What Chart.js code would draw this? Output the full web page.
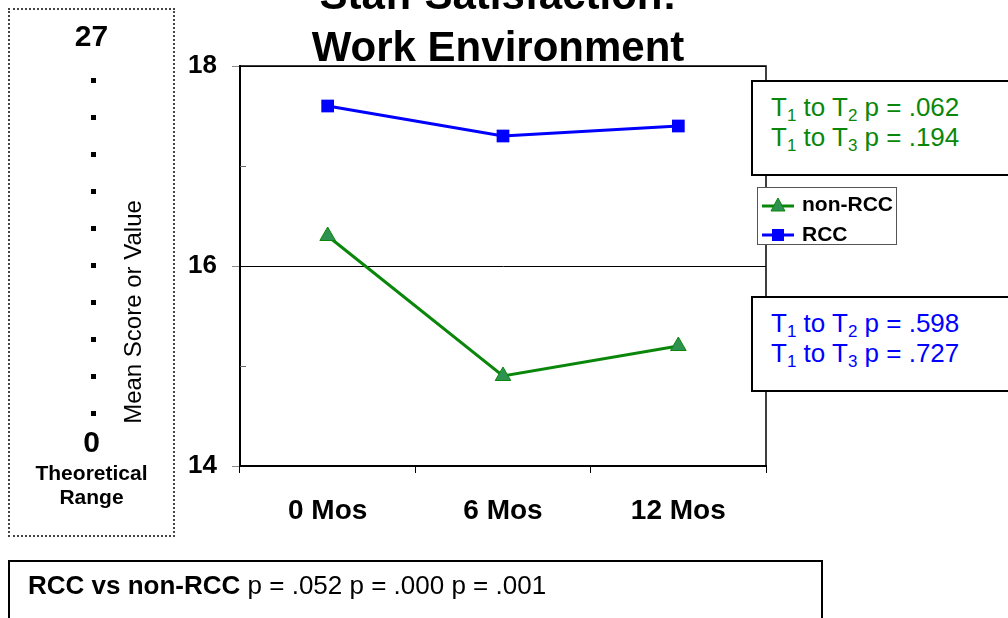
<!DOCTYPE html>
<html>
<head>
<meta charset="utf-8">
<script src="https://cdn.jsdelivr.net/npm/chart.js@4.4.1/dist/chart.umd.min.js"></script>
<style>
  body { margin: 0; background: #fff; font-family: "Liberation Sans", Arial, sans-serif; }
  #wrap { position: relative; width: 1008px; height: 618px; overflow: hidden; }
  #wrap canvas { position: absolute; left: 0; top: 0; }
  .abs { position: absolute; }
  .title { left: 0; width: 996px; top: -31px; text-align: center; font-weight: bold; font-size: 42px; line-height: 52px; }
  .range { left: 8px; top: 8px; width: 163px; height: 525px; border: 2px dotted #444; }
  .rt { position: absolute; left: 0; width: 163px; text-align: center; font-weight: bold; color: #000; }
  .ytitle { left: 3px; top: 298px; width: 260px; text-align: center; font-size: 24px; line-height: 28px; transform: rotate(-90deg); white-space: nowrap; }
  .note { left: 751px; width: 300px; height: 92px; border: 2px solid #000; background: #fff; font-size: 26px; line-height: 30px; padding-left: 18px; }
  .note div { white-space: nowrap; }
  .note sub { font-size: 17px; vertical-align: -5px; line-height: 0; }
  .legend { left: 757px; top: 187px; width: 138px; height: 56px; border: 1px solid #555; background: #fff; font-weight: bold; font-size: 21px; }
  .legend .item { position: absolute; left: 4px; height: 20px; line-height: 20px; white-space: nowrap; }
  .legend svg { vertical-align: middle; margin-right: 8px; }
  .bottom { left: 8px; top: 560px; width: 811px; height: 80px; border: 2px solid #000; font-size: 26px; }
  .bottom span.t { position: absolute; left: 18px; top: 8px; line-height: 30px; white-space: nowrap; }
</style>
</head>
<body>
<div id="wrap">
  <canvas id="chart" width="1008" height="618"></canvas>
  <div class="abs title">Staff Satisfaction:<br>Work Environment</div>
  <div class="abs range" id="range"></div>
  <div class="abs ytitle">Mean Score or Value</div>
  <div class="abs note" style="top:80px; color:#0a870a;">
    <div style="margin-top:10px;">T<sub>1</sub> to T<sub>2</sub> p = .062</div>
    <div>T<sub>1</sub> to T<sub>3</sub> p = .194</div>
  </div>
  <div class="abs legend" id="legend"></div>
  <div class="abs note" style="top:296px; color:#0000ff;">
    <div style="margin-top:10px;">T<sub>1</sub> to T<sub>2</sub> p = .598</div>
    <div>T<sub>1</sub> to T<sub>3</sub> p = .727</div>
  </div>
  <div class="abs bottom"><span class="t"><b>RCC vs non-RCC</b> p = .052 p = .000 p = .001</span></div>
</div>
<script>
const categories = ["0 Mos", "6 Mos", "12 Mos"];
const nonRccValues = [16.3, 14.9, 15.2];
const rccValues = [17.6, 17.3, 17.4];
const yTicks = [14, 16, 18];
const rangeLabels = { top: "27", bottom: "0", caption: ["Theoretical", "Range"] };

const GREEN = "#0a870a";
const GREEN_FILL = "#2e9350";
const BLUE = "#0000ff";
const FONT = "'Liberation Sans', Arial, sans-serif";

// left "theoretical range" box (inner origin is page 10,10)
(function buildRange() {
    let box = document.getElementById("range");
    let html = '';
    html += '<div class="rt" style="top:9px;font-size:30px;line-height:34px;">' + rangeLabels.top + '</div>';
    for (let i = 0; i < 10; i++) {
        let cy = 81 + i * 37;
        html += '<div style="position:absolute;left:81px;top:' + (cy - 3 - 10) + 'px;width:5px;height:5px;background:#000;"></div>';
    }
    html += '<div class="rt" style="top:415px;font-size:30px;line-height:34px;">' + rangeLabels.bottom + '</div>';
    html += '<div class="rt" style="top:451px;font-size:21px;line-height:24px;">' + rangeLabels.caption.join("<br>") + '</div>';
    box.innerHTML = html;
})();

// custom legend
(function buildLegend() {
    let lg = document.getElementById("legend");
    let tri = '<svg width="32" height="16"><line x1="0" y1="9" x2="32" y2="9" stroke="' + GREEN + '" stroke-width="3"/>' +
              '<polygon points="16,1 23,14 9,14" fill="' + GREEN_FILL + '" stroke="' + GREEN + '" stroke-width="1"/></svg>';
    let sq = '<svg width="32" height="16"><line x1="0" y1="8" x2="32" y2="8" stroke="' + BLUE + '" stroke-width="3"/>' +
             '<rect x="10" y="2" width="12" height="12" fill="' + BLUE + '"/></svg>';
    lg.innerHTML = '<div class="item" style="top:6px;">' + tri + 'non-RCC</div>' +
                   '<div class="item" style="top:36px;">' + sq + 'RCC</div>';
})();

// frame on top/right + minor ticks inside
const framePlugin = {
    id: "frame",
    afterDraw(chart) {
        let ctx = chart.ctx;
        let a = chart.chartArea;
        let y = chart.scales.y;
        ctx.save();
        ctx.strokeStyle = "#000";
        ctx.lineWidth = 1.5;
        ctx.beginPath();
        ctx.moveTo(a.left, a.top);
        ctx.lineTo(a.right, a.top);
        ctx.lineTo(a.right, a.bottom);
        ctx.stroke();
        ctx.lineWidth = 1;
        ctx.strokeStyle = "#666";
        [15, 17].forEach(v => {
            let py = Math.round(y.getPixelForValue(v)) + 0.5;
            ctx.beginPath();
            ctx.moveTo(a.left, py);
            ctx.lineTo(a.left + 6, py);
            ctx.stroke();
        });
        ctx.restore();
    }
};

new Chart(document.getElementById("chart").getContext("2d"), {
    type: "line",
    data: {
        labels: categories,
        datasets: [{
            label: "non-RCC",
            data: nonRccValues,
            borderColor: GREEN,
            backgroundColor: GREEN_FILL,
            pointBackgroundColor: GREEN_FILL,
            pointBorderColor: GREEN,
            pointBorderWidth: 1,
            pointStyle: "triangle",
            pointRadius: 9,
            borderWidth: 3,
            tension: 0
        }, {
            label: "RCC",
            data: rccValues,
            borderColor: BLUE,
            backgroundColor: BLUE,
            pointStyle: "rect",
            pointRadius: 9,
            pointBorderWidth: 0,
            borderWidth: 3,
            tension: 0
        }]
    },
    options: {
        responsive: false,
        animation: false,
        devicePixelRatio: 1,
        layout: { padding: { left: 0, top: 66, right: 242, bottom: 0 } },
        plugins: {
            legend: { display: false },
            title: { display: false },
            tooltip: { enabled: false }
        },
        scales: {
            x: {
                offset: true,
                grid: { offset: true, drawOnChartArea: false, tickLength: 7, color: "#000" },
                border: { color: "#000", width: 2 },
                ticks: { color: "#000", font: { family: FONT, size: 28, weight: "bold" }, padding: 21 },
                afterFit: s => { s.height = 152; }
            },
            y: {
                min: 14,
                max: 18,
                afterBuildTicks: s => { s.ticks = yTicks.map(v => ({ value: v })); },
                grid: { color: "#000", lineWidth: 1, tickLength: 8, tickColor: "#888" },
                border: { color: "#000", width: 2 },
                ticks: { color: "#000", font: { family: FONT, size: 26, weight: "bold" }, padding: 15 },
                afterFit: s => { s.width = 240; }
            }
        }
    },
    plugins: [framePlugin]
});
</script>
</body>
</html>
